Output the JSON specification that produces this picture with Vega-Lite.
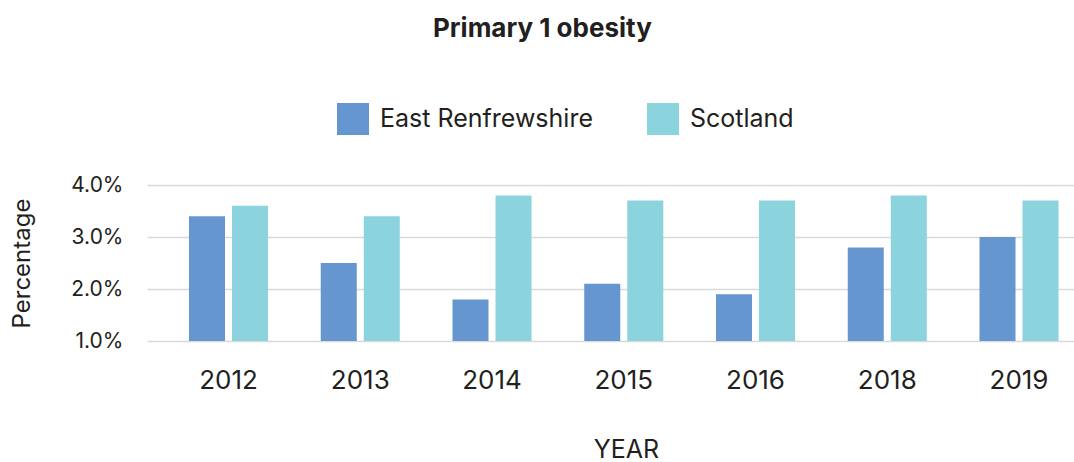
{
  "$schema": "https://vega.github.io/schema/vega-lite/v6.json",
  "autosize": {"type": "none"},
  "padding": {"left": 147, "top": 185, "right": 0, "bottom": 121},
  "width": 927,
  "height": 156,
  "background": "white",
  "title": {
    "text": "Primary 1 obesity",
    "font": "Inter",
    "fontSize": 26,
    "fontWeight": "bold",
    "color": "#231f20",
    "anchor": "middle",
    "frame": "bounds",
    "offset": 61
  },
  "data": {
    "values": [
      {"year": "2012", "area": "East Renfrewshire", "pct": 3.4},
      {"year": "2012", "area": "Scotland", "pct": 3.6},
      {"year": "2013", "area": "East Renfrewshire", "pct": 2.5},
      {"year": "2013", "area": "Scotland", "pct": 3.4},
      {"year": "2014", "area": "East Renfrewshire", "pct": 1.8},
      {"year": "2014", "area": "Scotland", "pct": 3.8},
      {"year": "2015", "area": "East Renfrewshire", "pct": 2.1},
      {"year": "2015", "area": "Scotland", "pct": 3.7},
      {"year": "2016", "area": "East Renfrewshire", "pct": 1.9},
      {"year": "2016", "area": "Scotland", "pct": 3.7},
      {"year": "2018", "area": "East Renfrewshire", "pct": 2.8},
      {"year": "2018", "area": "Scotland", "pct": 3.8},
      {"year": "2019", "area": "East Renfrewshire", "pct": 3.0},
      {"year": "2019", "area": "Scotland", "pct": 3.7}
    ]
  },
  "mark": {"type": "bar", "clip": true},
  "encoding": {
    "x": {
      "field": "year",
      "type": "nominal",
      "scale": {"paddingInner": 0.4, "paddingOuter": 0.218, "align": 0.731},
      "axis": {
        "title": "YEAR",
        "labelAngle": 0,
        "labelFont": "Inter",
        "labelFontSize": 26,
        "labelColor": "#231f20",
        "labelPadding": 26,
        "ticks": false,
        "domain": false,
        "titleFont": "Inter",
        "titleFontSize": 25,
        "titleFontWeight": "normal",
        "titleColor": "#231f20",
        "titlePadding": 44,
        "titleX": 479,
        "titleAlign": "center"
      }
    },
    "xOffset": {
      "field": "area",
      "type": "nominal",
      "sort": ["East Renfrewshire", "Scotland"],
      "scale": {"paddingInner": 0.163, "paddingOuter": 0}
    },
    "y": {
      "field": "pct",
      "type": "quantitative",
      "scale": {"domain": [1, 4], "nice": false, "zero": false},
      "axis": {
        "title": "Percentage",
        "values": [1, 2, 3, 4],
        "labelExpr": "format(datum.value, '.1f') + '%'",
        "labelFont": "Inter",
        "labelFontSize": 21,
        "labelColor": "#231f20",
        "labelPadding": 24,
        "ticks": false,
        "domain": false,
        "grid": true,
        "gridColor": "#d9d9d9",
        "gridWidth": 1.5,
        "titleFont": "Inter",
        "titleFontSize": 24,
        "titleFontWeight": "normal",
        "titleColor": "#231f20",
        "titlePadding": 36
      }
    },
    "color": {
      "field": "area",
      "type": "nominal",
      "sort": ["East Renfrewshire", "Scotland"],
      "scale": {"domain": ["East Renfrewshire", "Scotland"], "range": ["#6596cf", "#8bd3dd"]},
      "legend": {
        "title": null,
        "orient": "none",
        "direction": "horizontal",
        "legendX": 190,
        "legendY": -82,
        "symbolType": "square",
        "symbolSize": 1024,
        "symbolStrokeWidth": 0,
        "symbolOpacity": 1,
        "labelFont": "Inter",
        "labelFontSize": 25,
        "labelColor": "#231f20",
        "labelOffset": 11,
        "columnPadding": 54,
        "labelLimit": 400
      }
    }
  },
  "config": {"view": {"stroke": null}}
}
